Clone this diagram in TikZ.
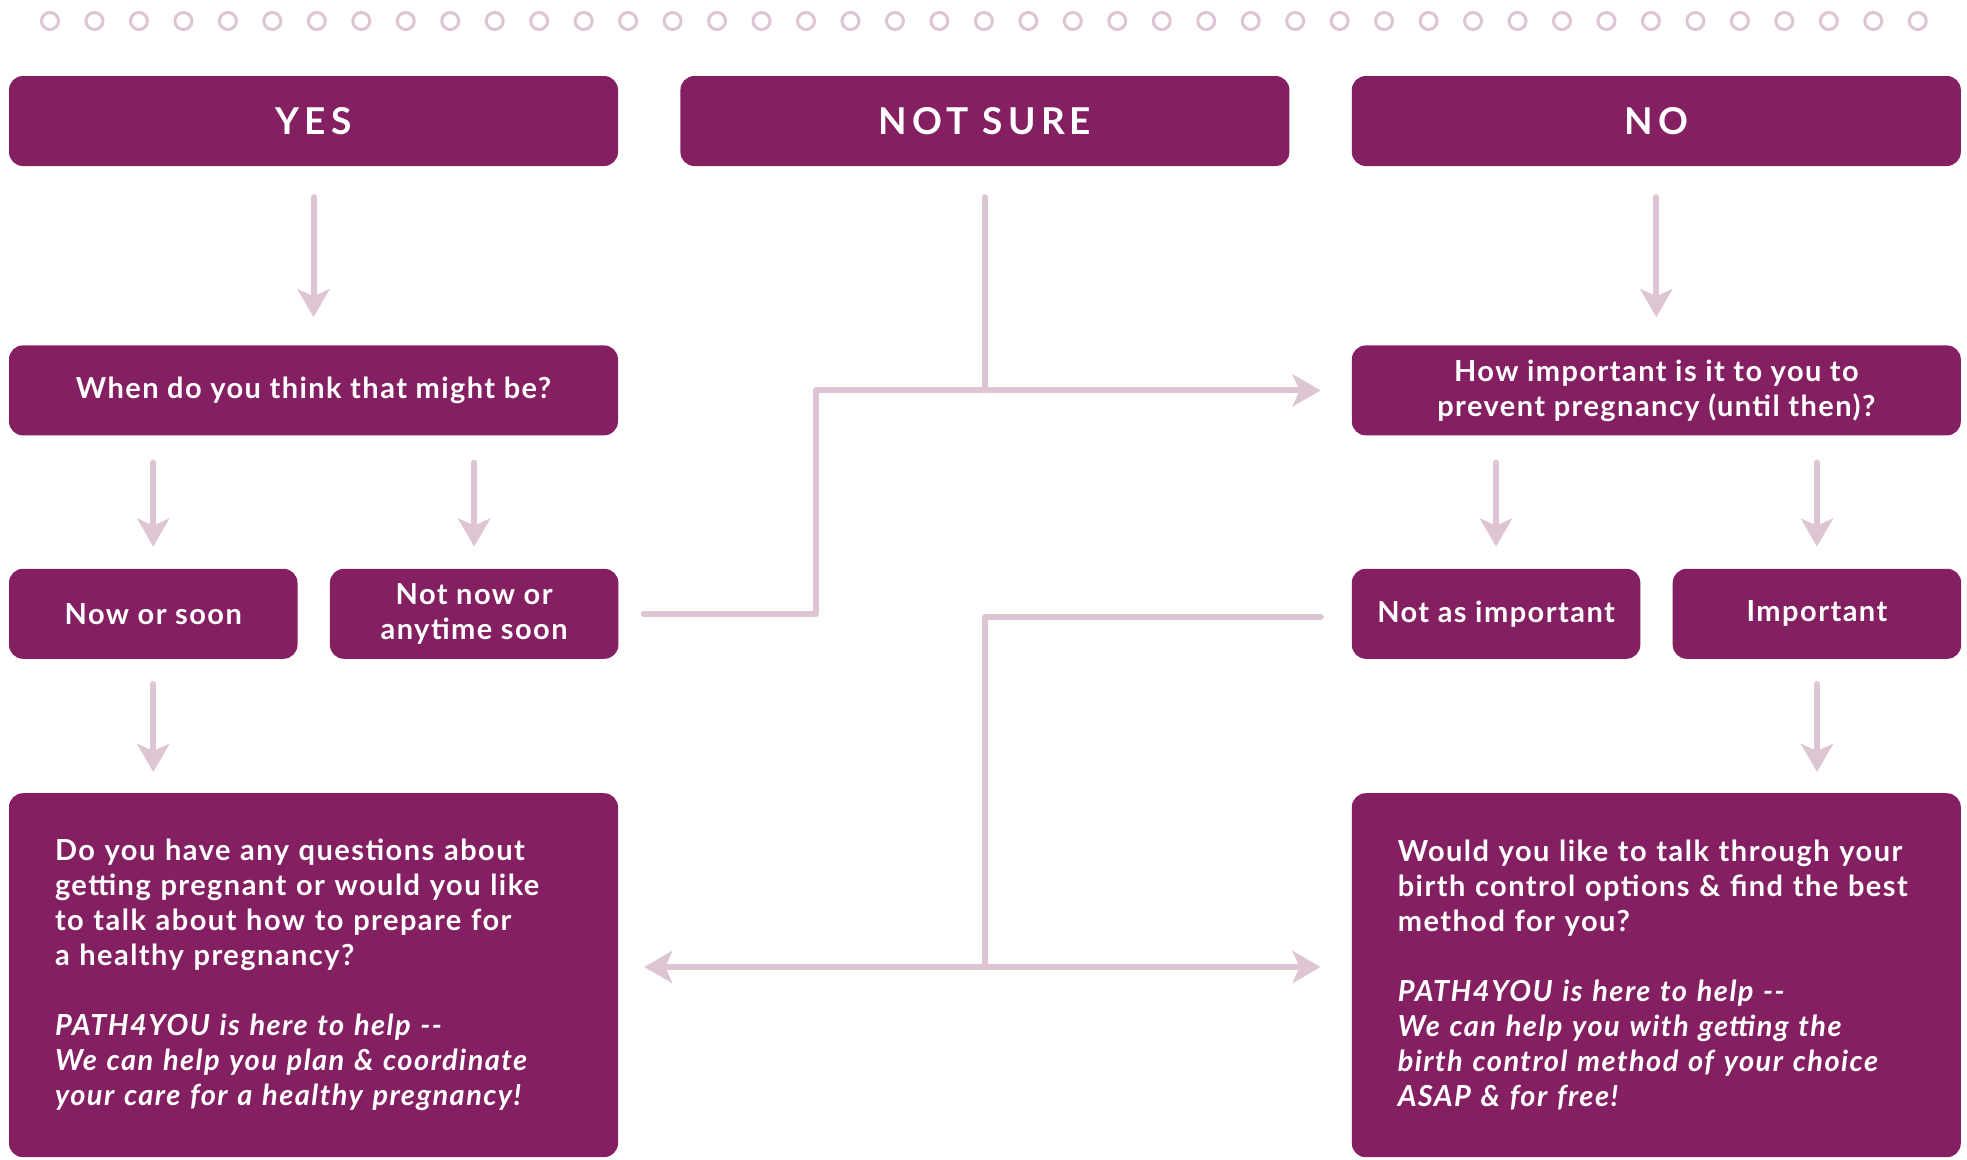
\documentclass[tikz,border=0pt]{standalone}
\usepackage{fontspec}
\setmainfont{Lato}[LetterSpace=5]
\newfontfamily\headfont[LetterSpace=14]{Lato}
\usepackage{xcolor}
\usepackage{tikz}
\usetikzlibrary{arrows.meta, positioning}

\definecolor{plum}{HTML}{841F62}
\definecolor{linkpink}{HTML}{DEC5D3}

\begin{document}
\begin{tikzpicture}[
    x=1pt, y=1pt,
    node distance=179pt and 62pt,
    box/.style={rectangle, fill=plum, rounded corners=14pt, text=white, inner sep=0pt, minimum height=90pt, align=center, font=\fontsize{29}{35}\selectfont\bfseries},
    head/.style={box, minimum width=609pt, font=\headfont\fontsize{37}{44}\selectfont\bfseries},
    wide/.style={box, minimum width=609pt},
    small/.style={box, minimum width=288.5pt},
    answer/.style={box, text width=517pt, inner xsep=46pt, inner ysep=0pt, minimum height=364pt, align=left},
    link/.style={draw=linkpink, line width=6pt, line cap=round, line join=round},
    arrow/.style={link, -{Stealth[length=28pt, width=32pt, inset=7pt]}},
    flow/.style={arrow, shorten <=27pt, shorten >=22pt}
]
\useasboundingbox (0,0) rectangle (1967,-1159);

% Dotted border on top
\foreach \i in {0,...,42}
  \draw[linkpink, line width=3pt] (50+44.47*\i,-21) circle (8.5);

% Top Row: the three answers
\node[head] (yes) at (313.5,-121) {YES};
\node[head, right=of yes] (notsure) {NOT SURE};
\node[head, right=of notsure] (no) {NO};

% Second Row: follow-up questions
\node[wide, below=of yes] (whenq) {When do you think that might be?};
\node[wide, below=of no] (howq) {How important is it to you to\\prevent pregnancy (until then)?};

% Third Row: timing and importance
\node[small, below=133pt of whenq.south west, anchor=north west] (nowsoon) {Now or soon};
\node[small, right=32pt of nowsoon] (notnow) {Not now or\\anytime soon};
\node[small, below=133pt of howq.south west, anchor=north west] (notasimp) {Not as important};
\node[small, right=32pt of notasimp] (important) {Important};

% Bottom Row: offers of help
\node[answer, below=134pt of nowsoon.south west, anchor=north west] (plan) {Do you have any questions about\\getting pregnant or would you like\\to talk about how to prepare for\\a healthy pregnancy?\\[35pt]\itshape PATH4YOU is here to help -{}-\\\itshape We can help you plan \& coordinate\\\itshape your care for a healthy pregnancy!};
\node[answer, below=134pt of notasimp.south west, anchor=north west] (choice) {Would you like to talk through your\\birth control options \& find the best\\method for you?\\[35pt]\itshape PATH4YOU is here to help -{}-\\\itshape We can help you with getting the\\\itshape birth control method of your choice\\\itshape ASAP \& for free!};

\coordinate (split) at (984.5,-967);

% Connectors
\draw[flow, shorten <=31pt, shorten >=28pt] (yes) -- (whenq);
\draw[flow, shorten <=31pt, shorten >=28pt] (no) -- (howq);
\draw[flow] (nowsoon |- whenq.south) -- (nowsoon);
\draw[flow] (notnow |- whenq.south) -- (notnow);
\draw[flow] (notasimp |- howq.south) -- (notasimp);
\draw[flow] (important |- howq.south) -- (important);
\draw[flow, shorten <=25pt, shorten >=21pt] (nowsoon.south) -- (nowsoon |- plan.north);
\draw[flow, shorten <=25pt, shorten >=21pt] (important.south) -- (important |- choice.north);

\draw[link, shorten <=31pt] (notsure) -- (notsure |- howq);
\draw[arrow, shorten <=25pt, shorten >=31pt] (notnow.east) -- ++(197,0) |- (howq.west);
\draw[link, shorten <=31pt] ([yshift=-3pt]notasimp.west) -| (split);
\draw[arrow, shorten >=26pt] (split) -- (split -| plan.east);
\draw[arrow, shorten >=31pt] (split) -- (split -| choice.west);

\end{tikzpicture}
\end{document}
